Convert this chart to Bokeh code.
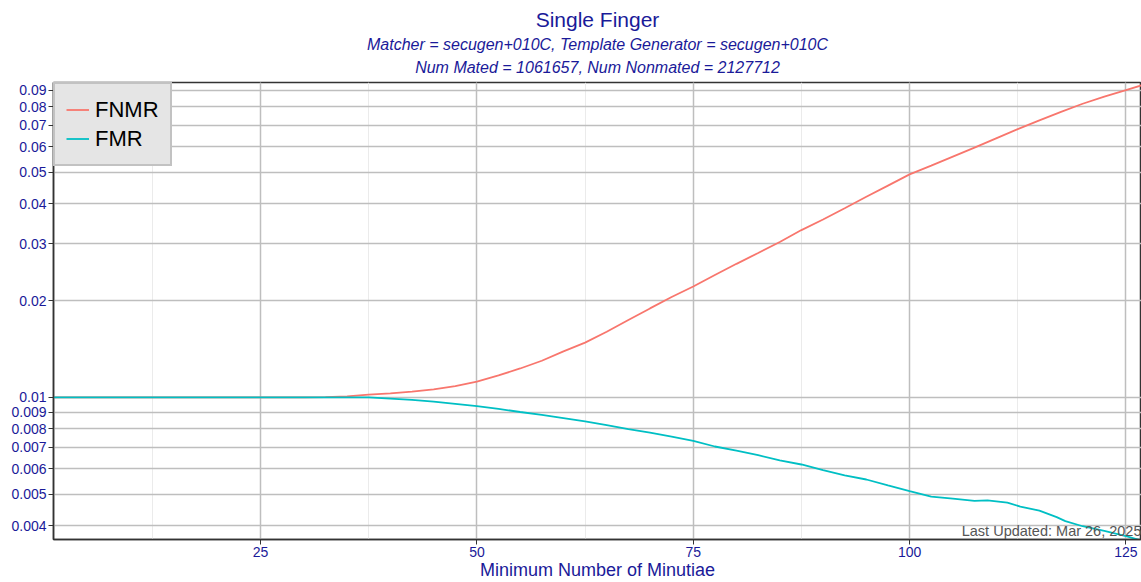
from bokeh.plotting import figure
from bokeh.models import (Range1d, FixedTicker, SingleIntervalTicker, CustomJSTickFormatter,
                          Title, Label, Legend, LegendItem)
from bokeh.embed import file_html
from bokeh.resources import INLINE

# ---------------- data ----------------
minutiae = [1, 10, 20, 30, 32.5, 35, 37.5, 40, 42.5, 45, 47.5, 50, 52.5, 55, 57.5, 60,
            62.5, 65, 67.5, 70, 72.5, 75, 77.5, 80, 82.5, 85, 87.5, 90, 92.5, 95,
            97.5, 100, 102.5, 105, 107.5, 110, 112.5, 115, 117.5, 120, 122.5, 125, 127]
fnmr = [0.0100, 0.0100, 0.0100, 0.0100, 0.01002, 0.01007, 0.0102, 0.0103, 0.01042, 0.0106,
        0.01085, 0.0112, 0.0117, 0.0123, 0.0130, 0.0139, 0.0148, 0.0160, 0.0174, 0.0189,
        0.0205, 0.0221, 0.0240, 0.0260, 0.0281, 0.0304, 0.0331, 0.0357, 0.0387, 0.0420,
        0.0455, 0.0493, 0.0525, 0.0560, 0.0597, 0.0638, 0.0681, 0.0725, 0.0771, 0.0817,
        0.0860, 0.0900, 0.0935]

fmr_x = [1, 10, 20, 30, 35, 37.5, 40, 42.5, 45, 47.5, 50, 52.5, 55, 57.5, 60, 62.5, 65,
         67.5, 70, 72.5, 75, 77.5, 80, 82.5, 85, 87.5, 90, 92.5, 95, 97.5, 100, 102.5,
         105, 107.5, 109, 111.3, 112.8, 115, 117, 118, 120, 122.5, 125, 127]
fmr = [0.0100, 0.0100, 0.0100, 0.0100, 0.0100, 0.0100, 0.00992, 0.00982, 0.00970, 0.00955,
       0.00940, 0.00921, 0.00901, 0.00882, 0.00862, 0.00842, 0.00820, 0.00797, 0.00777,
       0.00755, 0.00733, 0.00704, 0.00683, 0.00662, 0.00637, 0.00619, 0.00595, 0.00573,
       0.00556, 0.00533, 0.00512, 0.00492, 0.00485, 0.00477, 0.00479, 0.00471, 0.00458,
       0.00445, 0.00425, 0.00413, 0.00398, 0.00385, 0.00371, 0.00358]

y_ticks = [0.004, 0.005, 0.006, 0.007, 0.008, 0.009, 0.01,
           0.02, 0.03, 0.04, 0.05, 0.06, 0.07, 0.08, 0.09]
x_lo, x_hi = 1.07, 126.8
y_lo, y_hi = 0.00362, 0.0951

title_text = "Single Finger"
sub1 = "Matcher = secugen+010C, Template Generator = secugen+010C"
sub2 = "Num Mated = 1061657, Num Nonmated = 2127712"
updated = "Last Updated: Mar 26, 2025"

BLUE = "#1a1a99"
FONT = "Liberation Sans"

p = figure(width=1141, height=582, y_axis_type="log",
           x_range=Range1d(x_lo, x_hi), y_range=Range1d(y_lo, y_hi),
           output_backend="svg", toolbar_location=None, title=None,
           min_border_left=53, min_border_right=0, min_border_top=0, min_border_bottom=0)

# titles (first added is closest to plot)
p.add_layout(Title(text=sub2, align="center", text_font_style="italic", text_font_size="16px",
                   text_color=BLUE, text_font=FONT, standoff=13, offset=0), "above")
p.add_layout(Title(text=sub1, align="center", text_font_style="italic", text_font_size="16px",
                   text_color=BLUE, text_font=FONT, standoff=-5), "above")
p.add_layout(Title(text=title_text, align="center", text_font_style="normal", text_font_size="21px",
                   text_color=BLUE, text_font=FONT, standoff=11), "above")

r1 = p.line(minutiae, fnmr, line_color="#F8766D", line_width=1.8)
r2 = p.line(fmr_x, fmr, line_color="#00BFC4", line_width=1.8)

legend = Legend(items=[LegendItem(label="FNMR", renderers=[r1]),
                       LegendItem(label="FMR", renderers=[r2])],
                location="top_left", margin=0, padding=11, spacing=0,
                label_text_font_size="22px", label_text_font=FONT, label_text_color="black",
                background_fill_color="#e5e5e5", background_fill_alpha=1,
                border_line_color="#a0a0a0", border_line_width=2,
                glyph_width=23, label_height=29, glyph_height=29, label_standoff=6)
p.add_layout(legend, "center")

# axes
p.xaxis.ticker = SingleIntervalTicker(interval=25, num_minor_ticks=2)
p.yaxis.ticker = FixedTicker(ticks=y_ticks)
p.yaxis.formatter = CustomJSTickFormatter(code="return String(parseFloat(tick.toPrecision(3)));")
p.xaxis.axis_label = "Minimum Number of Minutiae"
p.xaxis.axis_label_text_font_style = "normal"
p.xaxis.axis_label_text_font_size = "18px"
p.xaxis.axis_label_text_color = BLUE
p.xaxis.axis_label_text_font = FONT
p.xaxis.axis_label_standoff = 0
for ax in (p.xaxis, p.yaxis):
    ax.major_label_text_font_size = "14px"
    ax.major_label_text_color = BLUE
    ax.major_label_text_font = FONT
    ax.axis_line_color = "#333333"
    ax.axis_line_width = 1.5
    ax.major_tick_line_color = "#333333"
    ax.major_tick_out = 5
    ax.major_tick_in = 0
    ax.minor_tick_line_color = None
    ax.major_label_standoff = 2

p.xgrid.grid_line_color = "#bebebe"
p.xgrid.grid_line_width = 1.5
p.xgrid.minor_grid_line_color = "#ebebeb"
p.xgrid.minor_grid_line_width = 1
p.ygrid.grid_line_color = "#bebebe"
p.ygrid.grid_line_width = 1.5

p.outline_line_color = "#333333"
p.outline_line_width = 1.5
p.background_fill_color = "white"

p.add_layout(Label(x=x_hi, y=y_lo, text=updated, text_align="right", text_baseline="bottom",
                   text_font_size="14.5px", text_color="#555555", text_font=FONT, y_offset=1))

open("out.html", "w").write(file_html(p, INLINE))
